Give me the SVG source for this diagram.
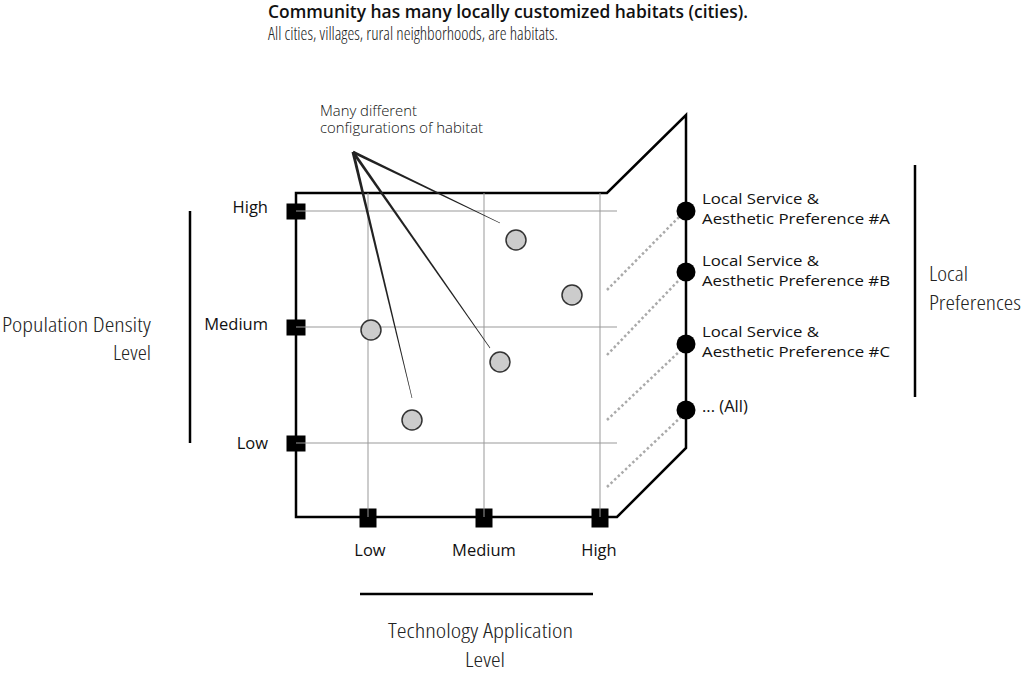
<svg xmlns="http://www.w3.org/2000/svg" width="1024" height="675" viewBox="0 0 1024 675">
<style>
.t{font-family:"Open Sans","Liberation Sans",sans-serif;fill:#111}
.lbl{font-size:16.5px}
.pl{font-size:15px}
.cond{font-family:"Open Sans","Liberation Sans Narrow","Liberation Sans",sans-serif;font-weight:300;font-stretch:condensed;fill:#222}
.big{font-size:20.5px}
.grid{stroke:#999;stroke-width:1;fill:none}
.frame{stroke:#000;stroke-width:2.5;fill:none;stroke-linejoin:miter}
.sq{fill:#000}
.hab{fill:#ccc;stroke:#333;stroke-width:1.5}
.pref{fill:#000}
.dot{stroke:#aaa;stroke-width:2.5;stroke-dasharray:2.5 2.5;fill:none}
.br{stroke:#000;stroke-width:2.5}
.lead{fill:#222}
</style>
<rect width="1024" height="675" fill="#fff"/>
<g id="title">
<text class="t" x="268" y="18" font-size="18.5" font-weight="600" textLength="480" lengthAdjust="spacingAndGlyphs">Community has many locally customized habitats (cities).</text>
<text class="cond" x="268" y="40" font-size="17.5" textLength="290" lengthAdjust="spacingAndGlyphs">All cities, villages, rural neighborhoods, are habitats.</text>
</g>
<g id="frame">
<polygon class="frame" points="617,517 296,517 296,193 607,193 686,115 686,448"/>
</g>
<g id="axis-markers">
<rect class="sq" x="286.5" y="203.5" width="19" height="16"/>
<rect class="sq" x="286.5" y="319.5" width="19" height="16"/>
<rect class="sq" x="286.5" y="435.5" width="19" height="16"/>
<rect class="sq" x="359.5" y="508.5" width="17" height="19"/>
<rect class="sq" x="475.5" y="508.5" width="17" height="19"/>
<rect class="sq" x="591.5" y="508.5" width="17" height="19"/>
</g>
<g id="grid">
<line class="grid" x1="296" y1="211" x2="617" y2="211"/>
<line class="grid" x1="296" y1="327" x2="617" y2="327"/>
<line class="grid" x1="296" y1="443" x2="617" y2="443"/>
<line class="grid" x1="368" y1="193" x2="368" y2="517"/>
<line class="grid" x1="484" y1="193" x2="484" y2="517"/>
<line class="grid" x1="600" y1="193" x2="600" y2="517"/>
</g>
<g id="connectors">
<line class="dot" x1="607" y1="290" x2="681" y2="215"/>
<line class="dot" x1="607" y1="355" x2="681" y2="278"/>
<line class="dot" x1="607" y1="420" x2="681" y2="350"/>
<line class="dot" x1="607" y1="487" x2="681" y2="417"/>
<polygon class="lead" points="352.35,153.35 499.87,223.27 500.13,222.73 353.65,150.65"/>
<polygon class="lead" points="351.77,152.86 489.75,348.17 490.25,347.83 354.23,151.14"/>
<polygon class="lead" points="351.54,152.35 411.71,398.07 412.29,397.93 354.46,151.65"/>
</g>
<g id="habitats">
<circle class="hab" cx="516" cy="240" r="10"/>
<circle class="hab" cx="572" cy="295" r="10"/>
<circle class="hab" cx="371" cy="330" r="10"/>
<circle class="hab" cx="500" cy="362" r="10"/>
<circle class="hab" cx="412" cy="420" r="10"/>
</g>
<g id="note">
<text class="t" font-size="14" font-weight="300" fill="#333"><tspan x="320" y="116" textLength="97" lengthAdjust="spacingAndGlyphs">Many different</tspan><tspan x="320" y="133" textLength="163" lengthAdjust="spacingAndGlyphs">configurations of habitat</tspan></text>
</g>
<g id="density-axis">
<line class="br" x1="190" y1="211" x2="190" y2="443"/>
<text class="t lbl" x="268" y="213" text-anchor="end">High</text>
<text class="t lbl" x="268" y="330" text-anchor="end">Medium</text>
<text class="t lbl" x="268" y="449" text-anchor="end">Low</text>
<text class="cond big" text-anchor="end"><tspan x="151" y="332" textLength="149" lengthAdjust="spacingAndGlyphs">Population Density</tspan><tspan x="151" y="360" textLength="38" lengthAdjust="spacingAndGlyphs">Level</tspan></text>
</g>
<g id="technology-axis">
<line class="br" x1="360" y1="594" x2="593" y2="594"/>
<text class="t lbl" x="370" y="556" text-anchor="middle">Low</text>
<text class="t lbl" x="484" y="556" text-anchor="middle">Medium</text>
<text class="t lbl" x="599" y="556" text-anchor="middle">High</text>
<text class="cond big" text-anchor="middle"><tspan x="480.5" y="638" textLength="185" lengthAdjust="spacingAndGlyphs">Technology Application</tspan><tspan x="485" y="667" textLength="40" lengthAdjust="spacingAndGlyphs">Level</tspan></text>
</g>
<g id="pref-a">
<circle class="pref" cx="686" cy="211" r="9.5"/>
<text class="t pl"><tspan x="702" y="204" textLength="117" lengthAdjust="spacingAndGlyphs">Local Service &amp;</tspan><tspan x="702" y="224" textLength="188" lengthAdjust="spacingAndGlyphs">Aesthetic Preference #A</tspan></text>
</g>
<g id="pref-b">
<circle class="pref" cx="686" cy="272" r="9.5"/>
<text class="t pl"><tspan x="702" y="266" textLength="117" lengthAdjust="spacingAndGlyphs">Local Service &amp;</tspan><tspan x="702" y="286" textLength="188" lengthAdjust="spacingAndGlyphs">Aesthetic Preference #B</tspan></text>
</g>
<g id="pref-c">
<circle class="pref" cx="686" cy="344" r="9.5"/>
<text class="t pl"><tspan x="702" y="337" textLength="117" lengthAdjust="spacingAndGlyphs">Local Service &amp;</tspan><tspan x="702" y="357" textLength="188" lengthAdjust="spacingAndGlyphs">Aesthetic Preference #C</tspan></text>
</g>
<g id="pref-all">
<circle class="pref" cx="686" cy="410" r="9.5"/>
<text class="t lbl" x="702" y="412">... (All)</text>
</g>
<g id="local-preferences">
<line class="br" x1="915" y1="165" x2="915" y2="397"/>
<text class="cond big"><tspan x="929" y="281" textLength="39" lengthAdjust="spacingAndGlyphs">Local</tspan><tspan x="929" y="310" textLength="92" lengthAdjust="spacingAndGlyphs">Preferences</tspan></text>
</g>
</svg>
